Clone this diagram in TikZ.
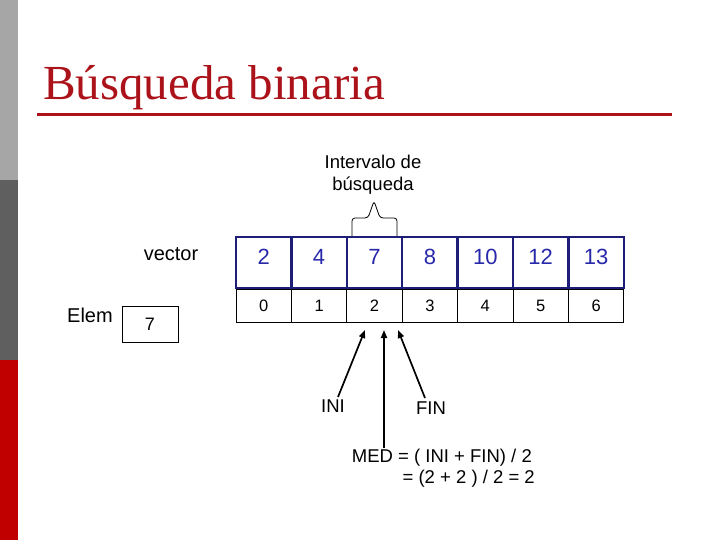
\documentclass[tikz,border=0pt]{standalone}
\usepackage{fontspec}
\setmainfont{Liberation Sans}
\newfontfamily\titlefont{Liberation Serif}
\usetikzlibrary{arrows.meta,positioning}
\definecolor{SlideRed}{RGB}{172,18,26}
\definecolor{BarLight}{RGB}{166,166,166}
\definecolor{BarDark}{RGB}{95,95,95}
\definecolor{BarRed}{RGB}{192,0,0}
\definecolor{CellNavy}{RGB}{30,30,120}
\definecolor{DigitBlue}{RGB}{40,40,170}
\tikzset{
  valcell/.style={minimum width=55.4pt,minimum height=51pt,inner sep=0pt,
    outer sep=0pt,text=DigitBlue,text depth=12pt,
    font=\fontsize{22}{24}\selectfont},
  idxcell/.style={minimum width=55.4pt,minimum height=33pt,inner sep=0pt,
    outer sep=0pt,font=\fontsize{16.5}{18}\selectfont},
  lbl/.style={font=\fontsize{18.5}{22}\selectfont,inner sep=0pt},
  ptr/.style={-{Triangle[length=8pt,width=6pt]},line width=1.7pt}
}

\begin{document}
\begin{tikzpicture}[x=1pt,y=-1pt]
  \useasboundingbox (0,0) rectangle (720,540);
  \fill[BarLight] (0,0) rectangle (18,180);
  \fill[BarDark] (0,180) rectangle (18,360);
  \fill[BarRed] (0,360) rectangle (18,540);
  \node[anchor=base west,inner sep=0pt,text=SlideRed,
    font=\titlefont\fontsize{49}{52}\selectfont] (title) at (43,100)
    {Búsqueda binaria};
  \draw[SlideRed,line width=2.8pt] (37,114.7)--(672,114.7);
  \node[lbl,align=center,anchor=north] (interv) at (373,155)
    {Intervalo de\\búsqueda};
  \draw[line width=0.8pt,rounded corners=3pt]
    (352,236)--(352,218)--(368,218)--(374,201)--(380,218)--(397,218)--(397,236);
  \foreach \v [count=\i from 0] in {2,4,7,8,10,12,13}{
    \node[idxcell] (idx\i) at ({236+55.4*(\i+0.5)},306) {\i};
    \node[valcell] (v\i) at ({236+55.4*(\i+0.5)},262.5) {\v};
  }
  \draw[line width=0.8pt] (idx0.north west) rectangle (idx6.south east);
  \foreach \i in {0,...,5}
    \draw[line width=0.8pt] (idx\i.north east) -- (idx\i.south east);
  \draw[CellNavy,line width=2.5pt] (v0.north west) rectangle (v6.south east);
  \foreach \i in {0,...,5}
    \draw[CellNavy,line width=2.5pt] (v\i.north east) -- (v\i.south east);
  \node[lbl,font=\fontsize{20}{22}\selectfont,anchor=base] (vec) at (171,260) {vector};
  \node[lbl,font=\fontsize{20}{22}\selectfont,anchor=base] (elem) at (90,322) {Elem};
  \node[draw,line width=0.8pt,minimum width=56pt,minimum height=36pt,
    font=\fontsize{18}{20}\selectfont] (elemval) at (150,324) {7};
  \node[lbl,anchor=north] (ini) at (333,400) {INI};
  \node[lbl,anchor=north] (fin) at (431,402) {FIN};
  \node[lbl,anchor=base east] (med1) at (532,462) {MED = ( INI + FIN) / 2};
  \node[lbl,anchor=base east] (med2) at (535,483) {= (2 + 2 ) / 2 = 2};
  \coordinate (iniTip) at (365,330);
  \coordinate (medTip) at (384,330);
  \coordinate (finTip) at (398,330);
  \draw[ptr] ([xshift=5pt,yshift=3pt]ini.north) -- (iniTip);
  \draw[ptr] (med1.north -| medTip) -- (medTip);
  \draw[ptr] ([xshift=-6pt,yshift=4pt]fin.north) -- (finTip);
\end{tikzpicture}
\end{document}
